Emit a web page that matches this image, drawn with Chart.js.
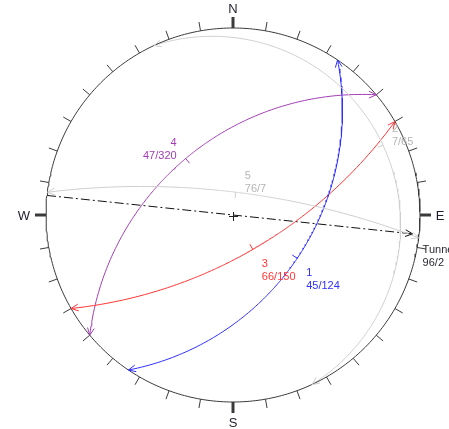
<!DOCTYPE html>
<html>
<head>
<meta charset="utf-8">
<script src="https://cdn.jsdelivr.net/npm/chart.js@4.4.1/dist/chart.umd.min.js"></script>
<style>
  html, body { margin: 0; padding: 0; background: #fff; overflow: hidden; }
</style>
</head>
<body>
<canvas id="stereonet" width="449" height="429"></canvas>
<script>
// planes (dip / dip direction)
const planeIds = ['1', '2', '3', '4', '5'];
const planeDips = [45, 7, 66, 47, 76];
const planeDipDirs = [124, 65, 150, 320, 7];
const planeColors = ['#2f2fff', '#cfcfcf', '#ff3535', '#a33db5', '#cfcfcf'];
const planeTextColors = ['#2f2fff', '#b5b5b5', '#ff3535', '#a33db5', '#b5b5b5'];
const drawOrder = [1, 4, 0, 2, 3];

// tunnel axis (trend / plunge)
const tunnelName = 'Tunnel';
const tunnelTrend = 96;
const tunnelPlunge = 2;

const compassLabels = ['N', 'E', 'S', 'W'];
const compassAngles = [0, 90, 180, 270];

const rad = Math.PI / 180;

// equal angle projection, lower hemisphere
function project(trend, plunge) {
    const r = Math.tan((90 - plunge) * rad / 2);
    return { x: r * Math.sin(trend * rad), y: r * Math.cos(trend * rad) };
}

function greatCircle(dip, dipDir) {
    const pts = [];
    for (let i = 0; i <= 180; i++) {
        const t = dipDir - 90 + i;
        const p = Math.atan(Math.tan(dip * rad) * Math.cos((t - dipDir) * rad)) / rad;
        pts.push(project(t, Math.max(p, 0)));
    }
    return pts;
}

const primitive = [];
for (let a = 0; a <= 360; a += 1) primitive.push({ x: Math.sin(a * rad), y: Math.cos(a * rad) });

const datasets = [];
datasets.push({ data: primitive, borderColor: '#3a3a3a', borderWidth: 1 });
drawOrder.forEach(i => {
    datasets.push({ data: greatCircle(planeDips[i], planeDipDirs[i]), borderColor: planeColors[i], borderWidth: 1, planeIndex: i });
});
const tunnelEnd = project(tunnelTrend, tunnelPlunge);
datasets.push({
    data: [project(tunnelTrend + 180, 0), { x: 0, y: 0 }, tunnelEnd],
    borderColor: '#111', borderWidth: 1, borderDash: [9, 3, 2, 3]
});

const netPlugin = {
    id: 'netDecor',
    afterDatasetsDraw(chart) {
        const ctx = chart.ctx;
        const sx = chart.scales.x, sy = chart.scales.y;
        const px = p => ({ x: sx.getPixelForValue(p.x), y: sy.getPixelForValue(p.y) });
        const c = px({ x: 0, y: 0 });
        const R = sx.getPixelForValue(1) - c.x;
        ctx.save();

        // azimuth ticks
        ctx.strokeStyle = '#3a3a3a';
        for (let a = 0; a < 360; a += 10) {
            const s = Math.sin(a * rad), k = -Math.cos(a * rad);
            const major = a % 90 === 0;
            ctx.lineWidth = major ? 3 : 1;
            const len = major ? 11 : 9;
            ctx.beginPath();
            ctx.moveTo(c.x + R * s, c.y + R * k);
            ctx.lineTo(c.x + (R + len) * s, c.y + (R + len) * k);
            ctx.stroke();
        }
        ctx.fillStyle = '#1e1e2a';
        ctx.font = '13px "Liberation Sans", Arial, sans-serif';
        ctx.textAlign = 'center';
        ctx.textBaseline = 'middle';
        compassLabels.forEach((lab, i) => {
            const a = compassAngles[i];
            const d = R + (lab === 'W' ? 22 : 20);
            ctx.fillText(lab, c.x + d * Math.sin(a * rad), c.y - d * Math.cos(a * rad) + 1);
        });

        // centre cross
        ctx.lineWidth = 1;
        ctx.strokeStyle = '#222';
        ctx.beginPath();
        ctx.moveTo(c.x - 4, c.y + 1.5); ctx.lineTo(c.x + 5, c.y + 1.5);
        ctx.moveTo(c.x + 0.5, c.y - 3); ctx.lineTo(c.x + 0.5, c.y + 6);
        ctx.stroke();

        function arrow(tip, from, color) {
            let dx = tip.x - from.x, dy = tip.y - from.y;
            const l = Math.hypot(dx, dy);
            dx /= l; dy /= l;
            ctx.strokeStyle = color;
            ctx.beginPath();
            [-25, 25].forEach(ang => {
                const ca = Math.cos(ang * rad), sa = Math.sin(ang * rad);
                const bx = dx * ca - dy * sa, by = dx * sa + dy * ca;
                ctx.moveTo(tip.x, tip.y);
                ctx.lineTo(tip.x - 8 * bx, tip.y - 8 * by);
            });
            ctx.stroke();
        }

        ctx.font = '11px "Liberation Sans", Arial, sans-serif';
        chart.data.datasets.forEach(ds => {
            if (ds.planeIndex === undefined) return;
            const i = ds.planeIndex;
            const pts = ds.data.map(px);
            ctx.lineWidth = 1;
            arrow(pts[0], pts[4], planeColors[i]);
            arrow(pts[pts.length - 1], pts[pts.length - 5], planeColors[i]);

            // dip direction tick
            const m = pts[90];
            let dx = c.x - m.x, dy = c.y - m.y;
            const l = Math.hypot(dx, dy) || 1;
            ctx.beginPath();
            ctx.moveTo(m.x, m.y);
            ctx.lineTo(m.x + 6 * dx / l, m.y + 6 * dy / l);
            ctx.stroke();

            // label
            const east = Math.sin(planeDipDirs[i] * rad) > 0;
            const north = Math.cos(planeDipDirs[i] * rad) > 0;
            ctx.fillStyle = planeTextColors[i];
            ctx.textAlign = east ? 'left' : 'right';
            const lx = m.x + (east ? 9 : -9);
            const y1 = north ? m.y - 16 : m.y + 15;
            ctx.fillText(planeIds[i], lx, y1);
            ctx.fillText(planeDips[i] + '/' + planeDipDirs[i], lx, y1 + 13);
        });

        // tunnel arrow and label
        const tp = px(tunnelEnd);
        arrow(tp, c, '#111');
        ctx.fillStyle = '#2a2a35';
        ctx.textAlign = 'left';
        ctx.fillText(tunnelName, tp.x + 10, tp.y + 16);
        ctx.fillText(tunnelTrend + '/' + tunnelPlunge, tp.x + 10, tp.y + 29);
        ctx.restore();
    }
};

new Chart(document.getElementById('stereonet'), {
    type: 'scatter',
    data: { datasets: datasets },
    options: {
        responsive: false,
        animation: false,
        layout: { padding: { left: 46, right: 29, top: 28, bottom: 27 } },
        datasets: { scatter: { showLine: true, pointRadius: 0, fill: false, clip: false } },
        scales: {
            x: { type: 'linear', min: -1, max: 1, display: false },
            y: { type: 'linear', min: -1, max: 1, display: false }
        },
        plugins: { legend: { display: false }, tooltip: { enabled: false } }
    },
    plugins: [netPlugin]
});
</script>
</body>
</html>
